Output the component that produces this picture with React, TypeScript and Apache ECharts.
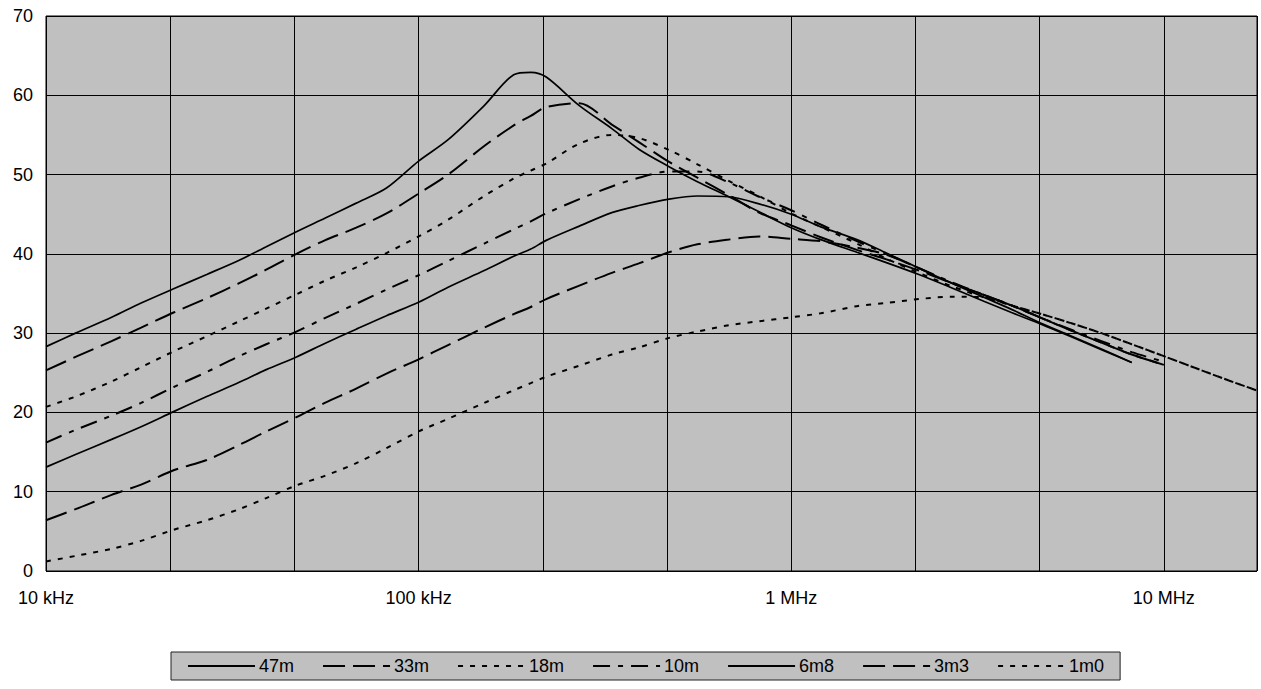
import React, { useEffect, useRef } from "react";
import * as echarts from "echarts";

// Frequencies in kHz
const freqKHz = [10, 12, 15, 18, 22, 27, 33, 39, 47, 56, 68, 82, 100, 120, 150, 180, 200, 220, 270, 330, 390, 470, 560, 680, 820, 1000, 1200, 1500, 1800, 2200, 2700, 3300, 3900, 4700, 5600, 6800, 8200, 10000, 12000, 15000, 17700];

const s47m = [28.3, 30.0, 32.0, 33.8, 35.6, 37.4, 39.2, 40.9, 42.8, 44.5, 46.4, 48.3, 51.7, 54.4, 58.7, 62.6, 62.9, 62.3, 58.7, 55.8, 53.2, 51.0, 49.1, 47.2, 45.3, 43.3, 41.8, 40.2, 38.9, 37.4, 35.7, 34.0, 32.6, 31.1, 29.6, 27.9, 26.3, null, null, null, null];
const s33m = [25.3, 27.0, 29.0, 30.7, 32.6, 34.4, 36.3, 38.0, 40.0, 41.7, 43.3, 45.1, 47.6, 50.0, 53.6, 56.2, 57.4, 58.5, 59.0, 56.3, 54.1, 51.6, 49.6, 47.4, 45.2, 43.6, 42.1, 40.5, 39.3, 37.9, 36.3, 34.8, 33.5, 31.9, 30.4, 28.8, 27.3, 26.0, null, null, null];
const s18m = [20.7, 22.0, 23.9, 25.7, 27.7, 29.6, 31.5, 33.1, 34.9, 36.6, 38.3, 40.1, 42.2, 44.3, 47.3, 49.5, 50.5, 51.4, 53.9, 55.0, 54.6, 53.1, 51.3, 49.2, 47.3, 45.1, 43.4, 41.3, 39.4, 37.6, 35.9, 34.5, 33.5, 32.4, 31.3, 30.0, 28.6, 27.1, 25.7, 24.0, 22.8];
const s10m = [16.2, 17.8, 19.6, 21.2, 23.2, 25.1, 27.1, 28.6, 30.2, 31.9, 33.7, 35.5, 37.3, 39.1, 41.3, 43.1, 44.1, 45.1, 46.9, 48.5, 49.6, 50.4, 50.4, 49.0, 47.2, 45.5, 43.7, 41.6, 40.0, 38.2, 36.4, 34.8, 33.5, 31.9, 30.5, 29.0, 27.6, 26.4, null, null, null];
const s6m8 = [13.1, 14.7, 16.6, 18.2, 20.1, 22.0, 23.8, 25.4, 27.0, 28.7, 30.5, 32.2, 33.9, 35.8, 37.9, 39.7, 40.6, 41.7, 43.5, 45.2, 46.1, 46.9, 47.3, 47.2, 46.3, 45.0, 43.4, 41.8, 40.1, 38.2, 36.3, 34.5, 33.0, 31.2, 29.7, 28.0, 26.3, null, null, null, null];
const s3m3 = [6.4, 7.8, 9.6, 10.9, 12.7, 14.0, 15.9, 17.6, 19.4, 21.2, 23.0, 24.9, 26.7, 28.5, 30.7, 32.4, 33.3, 34.3, 36.0, 37.6, 38.8, 40.2, 41.2, 41.8, 42.2, 41.9, 41.6, 40.8, 39.9, 38.2, 36.3, 34.8, 33.5, 31.9, 30.4, 28.8, 27.3, 26.0, null, null, null];
const s1m0 = [1.2, 1.9, 2.8, 3.8, 5.2, 6.4, 7.8, 9.2, 10.8, 12.0, 13.6, 15.5, 17.6, 19.2, 21.2, 22.8, 23.7, 24.5, 25.9, 27.3, 28.2, 29.4, 30.2, 31.0, 31.5, 32.0, 32.5, 33.4, 33.8, 34.3, 34.6, 34.5, 33.5, 32.4, 31.3, 30.0, 28.6, 27.1, 25.7, 24.0, 22.8];

const seriesNames = ["47m", "33m", "18m", "10m", "6m8", "3m3", "1m0"];
const seriesValues = [s47m, s33m, s18m, s10m, s6m8, s3m3, s1m0];
const seriesDash: (string | number[])[] = ["solid", [22, 8], [5, 7], [17, 8, 5, 8], "solid", [22, 8], [5, 7]];
const seriesWidth = [1.7, 2, 2, 2, 1.7, 2, 2];

const decadeLabels: Record<number, string> = { 4: "10 kHz", 5: "100 kHz", 6: "1 MHz", 7: "10 MHz" };

const FONT = "'Liberation Sans', Arial, Helvetica, sans-serif";

export default function App() {
  const ref = useRef<HTMLDivElement>(null);
  useEffect(() => {
    if (!ref.current) return;
    const chart = echarts.init(ref.current, undefined, { renderer: "svg" });
    const series = seriesNames.map((name, i) => ({
      name,
      type: "line",
      data: freqKHz.map((f, j) => [Math.log10(f * 1000), seriesValues[i][j]]),
      showSymbol: false,
      symbol: "none",
      smooth: 0.3,
      connectNulls: false,
      lineStyle: { color: "#000", width: seriesWidth[i], type: seriesDash[i] },
      itemStyle: { color: "#000" },
      emphasis: { disabled: true },
    }));
    chart.setOption({
      animation: false,
      backgroundColor: "#fff",
      textStyle: { fontFamily: FONT },
      grid: {
        left: 46,
        top: 16,
        width: 1211,
        height: 555,
        show: true,
        backgroundColor: "#C0C0C0",
        borderColor: "#000",
        borderWidth: 1,
      },
      xAxis: {
        type: "value",
        min: 4,
        max: 7.25,
        interval: 1 / 3,
        axisLine: { show: false },
        axisTick: { show: false },
        splitLine: { show: true, lineStyle: { color: "#000", width: 1 } },
        axisLabel: {
          margin: 18,
          fontSize: 18,
          color: "#000",
          fontFamily: FONT,
          showMinLabel: true,
          showMaxLabel: true,
          formatter: (v: number) => {
            const r = Math.round(v);
            return Math.abs(v - r) < 1e-6 && decadeLabels[r] ? decadeLabels[r] : "";
          },
        },
      },
      yAxis: {
        type: "value",
        min: 0,
        max: 70,
        interval: 10,
        axisLine: { show: false },
        axisTick: { show: false },
        splitLine: { show: true, lineStyle: { color: "#000", width: 1 } },
        axisLabel: { margin: 13, fontSize: 18, color: "#000", fontFamily: FONT },
      },
      legend: {
        left: 171,
        top: 652,
        orient: "horizontal",
        padding: [5, 16, 5, 16],
        itemWidth: 67,
        itemHeight: 20,
        itemGap: 28,
        backgroundColor: "#C0C0C0",
        borderColor: "#222",
        borderWidth: 1,
        borderRadius: 0,
        selectedMode: false,
        itemStyle: { opacity: 0 },
        textStyle: { fontSize: 18, color: "#000", fontFamily: FONT, padding: [0, 0, 0, -1] },
        data: seriesNames,
      },
      series,
    });
    return () => chart.dispose();
  }, []);
  return (
    <div
      ref={ref}
      style={{ position: "absolute", left: 0, top: 0, width: 1261, height: 689 }}
    />
  );
}
